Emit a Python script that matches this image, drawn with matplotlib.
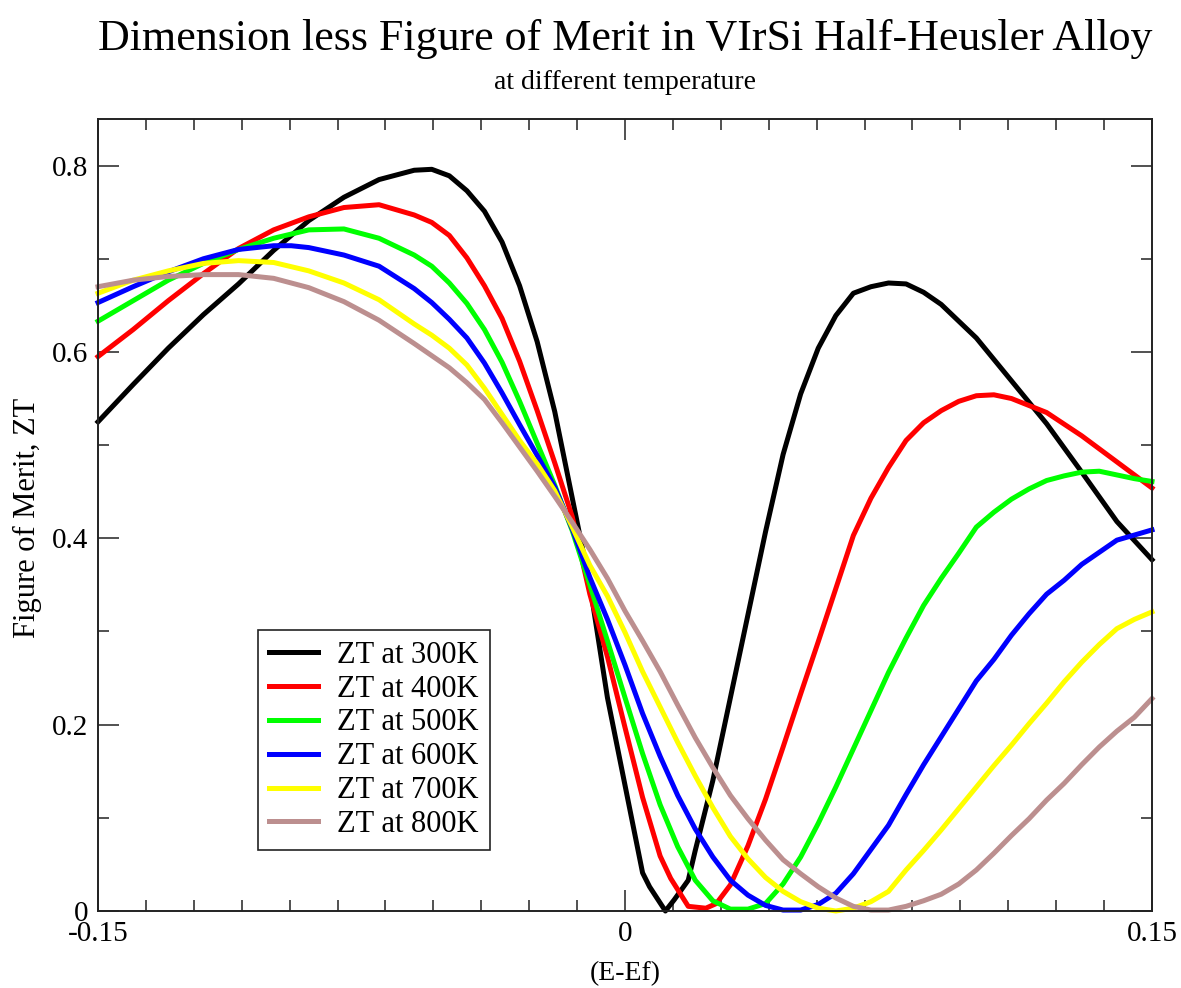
import numpy as np
import matplotlib.pyplot as plt
from matplotlib.ticker import FixedLocator, FixedFormatter

plt.rcParams['font.family'] = ['Liberation Serif', 'DejaVu Serif']
plt.rcParams['axes.unicode_minus'] = False

# -----------------------------
# Data
# -----------------------------
x_300 = [-0.150, -0.140, -0.130, -0.120, -0.110, -0.100, -0.090, -0.080, -0.070, -0.060,
         -0.055, -0.050, -0.045, -0.040, -0.035, -0.030, -0.025, -0.020, -0.015, -0.010,
         -0.005, 0.000, 0.005, 0.007, 0.0115, 0.014, 0.018, 0.020, 0.025, 0.030,
         0.035, 0.040, 0.045, 0.050, 0.055, 0.060, 0.065, 0.070, 0.075, 0.080,
         0.085, 0.090, 0.100, 0.110, 0.120, 0.130, 0.140, 0.150]
zt_300 = [0.525, 0.565, 0.604, 0.640, 0.673, 0.709, 0.741, 0.766, 0.785, 0.795,
          0.796, 0.789, 0.773, 0.751, 0.718, 0.671, 0.611, 0.536, 0.443, 0.350,
          0.229, 0.135, 0.041, 0.026, 0.000, 0.012, 0.033, 0.065, 0.140, 0.229,
          0.318, 0.407, 0.490, 0.555, 0.604, 0.639, 0.663, 0.670, 0.674, 0.673,
          0.664, 0.651, 0.615, 0.569, 0.523, 0.471, 0.418, 0.377]

x_400 = [-0.150, -0.140, -0.130, -0.120, -0.110, -0.100, -0.090, -0.080, -0.070, -0.060,
         -0.055, -0.050, -0.045, -0.040, -0.035, -0.030, -0.025, -0.020, -0.015, -0.010,
         -0.005, 0.000, 0.005, 0.010, 0.013, 0.018, 0.023, 0.026, 0.030, 0.035,
         0.040, 0.045, 0.050, 0.055, 0.060, 0.065, 0.070, 0.075, 0.080, 0.085,
         0.090, 0.095, 0.100, 0.105, 0.110, 0.120, 0.130, 0.140, 0.150]
zt_400 = [0.595, 0.624, 0.655, 0.684, 0.711, 0.731, 0.745, 0.755, 0.758, 0.747,
          0.739, 0.725, 0.701, 0.671, 0.636, 0.590, 0.537, 0.481, 0.423, 0.340,
          0.273, 0.197, 0.122, 0.059, 0.035, 0.005, 0.003, 0.008, 0.028, 0.070,
          0.120, 0.176, 0.233, 0.289, 0.346, 0.403, 0.443, 0.476, 0.505, 0.524,
          0.537, 0.547, 0.553, 0.554, 0.550, 0.535, 0.510, 0.482, 0.454]

x_500 = [-0.150, -0.140, -0.130, -0.120, -0.110, -0.100, -0.090, -0.080, -0.070, -0.060,
         -0.055, -0.050, -0.045, -0.040, -0.035, -0.030, -0.025, -0.020, -0.015, -0.010,
         -0.005, 0.000, 0.005, 0.010, 0.015, 0.020, 0.025, 0.030, 0.035, 0.040,
         0.045, 0.050, 0.055, 0.060, 0.065, 0.070, 0.075, 0.080, 0.085, 0.090,
         0.095, 0.100, 0.105, 0.110, 0.115, 0.120, 0.125, 0.130, 0.135, 0.140,
         0.145, 0.150]
zt_500 = [0.633, 0.655, 0.677, 0.695, 0.710, 0.722, 0.731, 0.732, 0.722, 0.704,
          0.692, 0.674, 0.652, 0.624, 0.589, 0.547, 0.502, 0.457, 0.408, 0.350,
          0.290, 0.229, 0.169, 0.114, 0.069, 0.033, 0.011, 0.002, 0.002, 0.008,
          0.029, 0.058, 0.094, 0.133, 0.174, 0.215, 0.256, 0.293, 0.328, 0.357,
          0.384, 0.412, 0.428, 0.442, 0.453, 0.462, 0.467, 0.471, 0.472, 0.468,
          0.464, 0.461]

x_600 = [-0.150, -0.140, -0.130, -0.120, -0.110, -0.100, -0.095, -0.090, -0.080, -0.070,
         -0.060, -0.055, -0.050, -0.045, -0.040, -0.035, -0.030, -0.025, -0.020, -0.015,
         -0.010, -0.005, 0.000, 0.005, 0.010, 0.015, 0.020, 0.025, 0.030, 0.035,
         0.040, 0.045, 0.050, 0.055, 0.060, 0.065, 0.070, 0.075, 0.080, 0.085,
         0.090, 0.095, 0.100, 0.105, 0.110, 0.115, 0.120, 0.125, 0.130, 0.140,
         0.150]
zt_600 = [0.653, 0.670, 0.686, 0.700, 0.710, 0.714, 0.714, 0.712, 0.704, 0.692,
          0.668, 0.653, 0.635, 0.615, 0.588, 0.556, 0.522, 0.489, 0.455, 0.410,
          0.358, 0.313, 0.264, 0.212, 0.166, 0.124, 0.088, 0.058, 0.033, 0.017,
          0.006, 0.001, 0.001, 0.007, 0.019, 0.040, 0.066, 0.092, 0.125, 0.157,
          0.187, 0.217, 0.247, 0.270, 0.296, 0.319, 0.340, 0.355, 0.372, 0.398,
          0.409]

x_700 = [-0.150, -0.140, -0.130, -0.120, -0.110, -0.100, -0.090, -0.080, -0.070, -0.060,
         -0.055, -0.050, -0.045, -0.040, -0.035, -0.030, -0.025, -0.020, -0.015, -0.010,
         -0.005, 0.000, 0.005, 0.010, 0.015, 0.020, 0.025, 0.030, 0.035, 0.040,
         0.045, 0.050, 0.055, 0.060, 0.065, 0.070, 0.075, 0.080, 0.085, 0.090,
         0.095, 0.100, 0.105, 0.110, 0.115, 0.120, 0.125, 0.130, 0.135, 0.140,
         0.145, 0.150]
zt_700 = [0.663, 0.677, 0.687, 0.695, 0.698, 0.696, 0.687, 0.674, 0.656, 0.630,
          0.618, 0.604, 0.586, 0.561, 0.533, 0.505, 0.480, 0.451, 0.412, 0.371,
          0.338, 0.299, 0.257, 0.219, 0.181, 0.145, 0.111, 0.080, 0.056, 0.036,
          0.021, 0.010, 0.003, 0.000, 0.003, 0.010, 0.021, 0.044, 0.065, 0.087,
          0.110, 0.133, 0.156, 0.178, 0.201, 0.223, 0.246, 0.267, 0.286, 0.303,
          0.313, 0.321]

x_800 = [-0.150, -0.140, -0.130, -0.120, -0.110, -0.100, -0.090, -0.080, -0.070, -0.060,
         -0.055, -0.050, -0.045, -0.040, -0.035, -0.030, -0.025, -0.020, -0.015, -0.010,
         -0.005, 0.000, 0.005, 0.010, 0.015, 0.020, 0.025, 0.030, 0.035, 0.040,
         0.045, 0.050, 0.055, 0.060, 0.065, 0.070, 0.075, 0.080, 0.085, 0.090,
         0.095, 0.100, 0.105, 0.110, 0.115, 0.120, 0.125, 0.130, 0.135, 0.140,
         0.145, 0.150]
zt_800 = [0.670, 0.677, 0.681, 0.683, 0.683, 0.679, 0.669, 0.654, 0.634, 0.609,
          0.596, 0.583, 0.567, 0.549, 0.524, 0.498, 0.472, 0.445, 0.417, 0.388,
          0.357, 0.322, 0.290, 0.257, 0.221, 0.186, 0.154, 0.124, 0.099, 0.076,
          0.055, 0.040, 0.026, 0.014, 0.005, 0.001, 0.001, 0.005, 0.011, 0.018,
          0.029, 0.044, 0.062, 0.081, 0.099, 0.119, 0.137, 0.157, 0.176, 0.193,
          0.208, 0.228]

labels = ["ZT at 300K", "ZT at 400K", "ZT at 500K",
          "ZT at 600K", "ZT at 700K", "ZT at 800K"]
colors = ["#000000", "#ff0000", "#00ff00", "#0000ff", "#ffff00", "#bc8f8f"]

xs = [x_300, x_400, x_500, x_600, x_700, x_800]
ys = [zt_300, zt_400, zt_500, zt_600, zt_700, zt_800]

x_major = [-0.15, 0.0, 0.15]
x_major_labels = ["-0.15", "0", "0.15"]
y_major = [0.0, 0.2, 0.4, 0.6, 0.8]
y_major_labels = ["0", "0.2", "0.4", "0.6", "0.8"]

# -----------------------------
# Figure
# -----------------------------
W, H = 1181, 988
fig = plt.figure(figsize=(W / 100, H / 100), dpi=100)
ax = fig.add_axes([98 / W, (H - 911) / H, 1054 / W, 792 / H])

for x, y, c, lab in zip(xs, ys, colors, labels):
    ax.plot(x, y, color=c, lw=3.6, label=lab, clip_on=False)

ax.set_xlim(-0.15, 0.15)
ax.set_ylim(0, 0.85)

ax.xaxis.set_major_locator(FixedLocator(x_major))
ax.xaxis.set_major_formatter(FixedFormatter(x_major_labels))
ax.xaxis.set_minor_locator(FixedLocator(np.linspace(-0.15, 0.15, 23)))
ax.yaxis.set_major_locator(FixedLocator(y_major))
ax.yaxis.set_major_formatter(FixedFormatter(y_major_labels))
ax.yaxis.set_minor_locator(FixedLocator(np.arange(0.1, 0.85, 0.2)))

ax.tick_params(which='both', direction='in', top=True, right=True, width=1.1,
               color='#222222')
ax.tick_params(which='major', length=15, labelsize=21)
ax.tick_params(which='minor', length=8)
ax.tick_params(axis='x', which='major', pad=7)
ax.tick_params(axis='y', which='major', pad=7)
for s in ax.spines.values():
    s.set_linewidth(1.4)
    s.set_color('#222222')

leg = ax.legend(loc='upper left', bbox_to_anchor=(258 / W, 1 - 630 / H),
                bbox_transform=fig.transFigure, borderaxespad=0,
                fontsize=22, frameon=True, fancybox=False, framealpha=1,
                edgecolor='#222222', handlelength=1.6, handletextpad=0.65,
                labelspacing=0.16, borderpad=0.35)
leg.get_frame().set_linewidth(1.2)

fig.text(625 / W, 1 - 50 / H, "Dimension less Figure of Merit in VIrSi Half-Heusler Alloy",
         ha='center', va='baseline', fontsize=31.7)
fig.text(625 / W, 1 - 89 / H, "at different temperature",
         ha='center', va='baseline', fontsize=20)
fig.text(625 / W, 1 - 980 / H, "(E-Ef)", ha='center', va='baseline', fontsize=20)
fig.text(27 / W, 1 - 518 / H, "Figure of Merit, ZT", ha='center', va='center',
         rotation=90, fontsize=22)

fig.savefig("out.png", dpi=100)
